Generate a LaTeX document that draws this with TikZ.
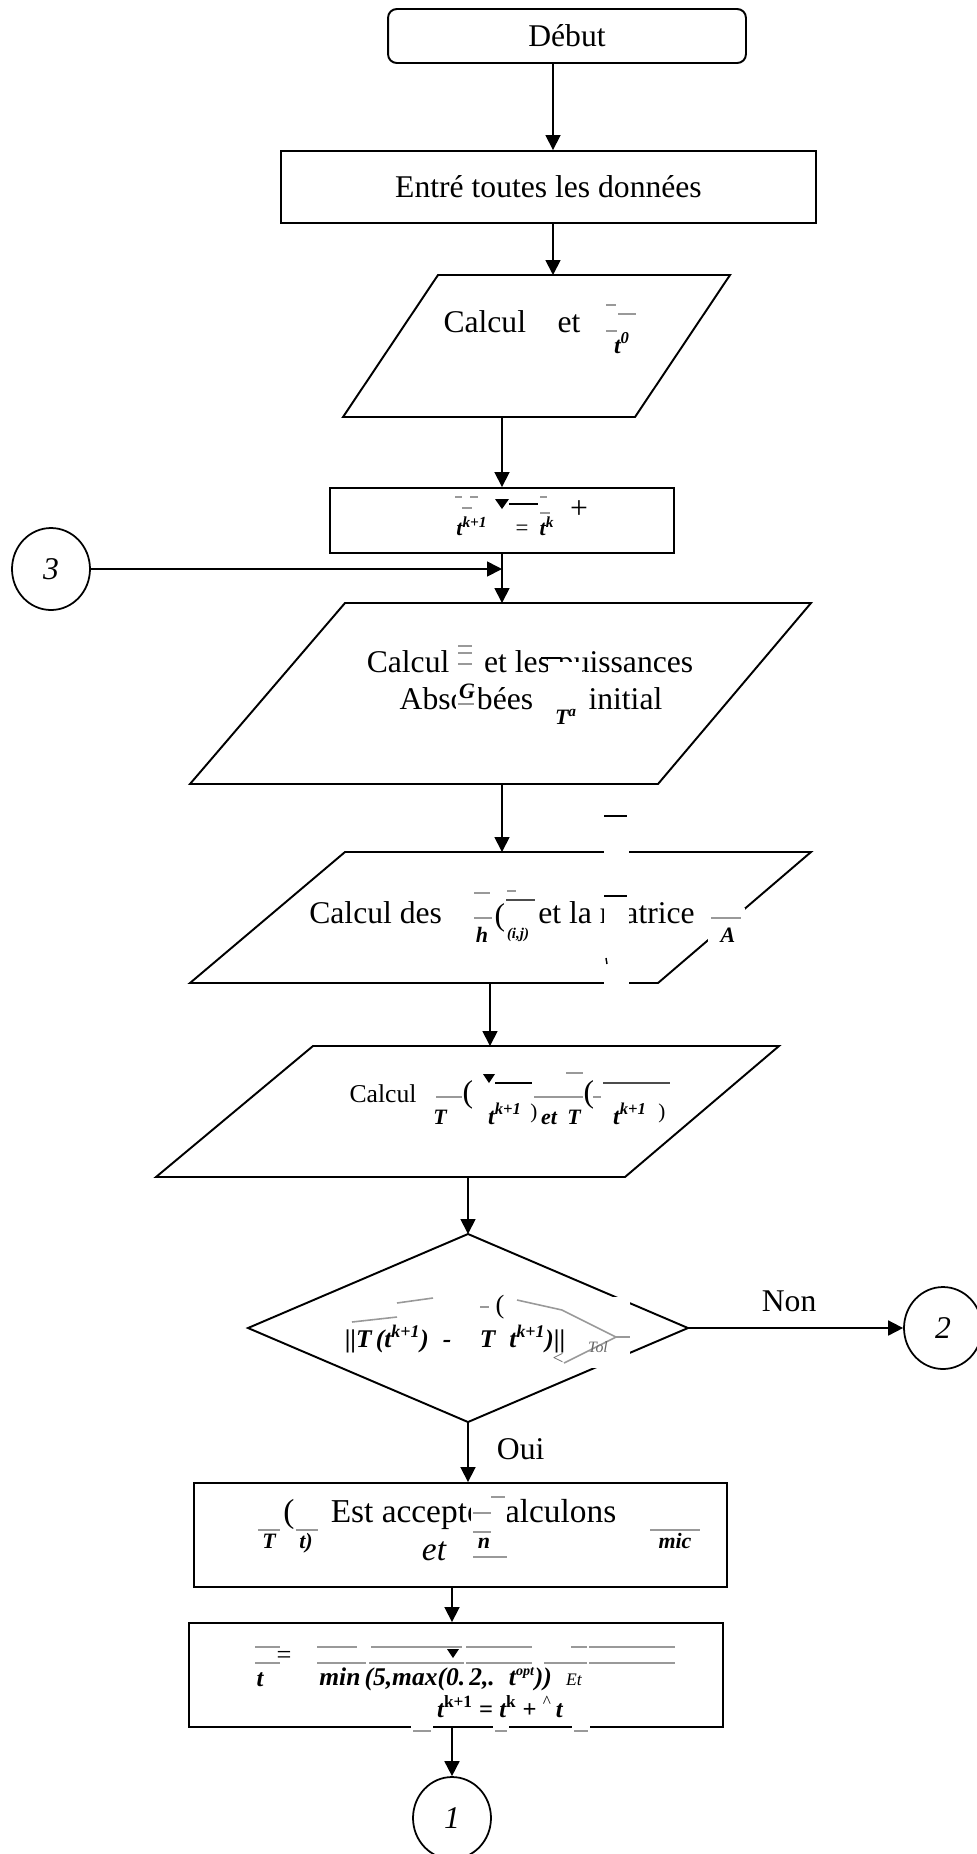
\documentclass[tikz,border=0pt]{standalone}
\usepackage{fontspec}
\setmainfont{Liberation Serif}
\usetikzlibrary{arrows.meta,shapes.geometric}
\newcommand{\eqfont}{\fontsize{12.5}{13}\selectfont\bfseries\itshape}
\begin{document}
\begin{tikzpicture}[x=0.02cm,y=-0.02cm,
  outline/.style={line width=1.1pt},
  arr/.style={line width=1pt,-{Triangle[length=8.5pt,width=8.5pt]}},
  box/.style={draw,line width=1.1pt,inner sep=0pt,font=\fontsize{18}{20}\selectfont},
  conn/.style={draw,ellipse,line width=1pt,minimum width=1.56cm,minimum height=1.64cm,inner sep=0pt,font=\fontsize{18}{20}\selectfont\itshape},
  lbl/.style={inner sep=0pt,font=\fontsize{18}{20}\selectfont},
  eq/.style={inner sep=0pt,font=\eqfont},
  bar/.style={draw=black!40,line width=0.9pt},
  ink/.style={draw=black,line width=0.9pt},
]
\useasboundingbox (0,0) rectangle (977,1854);

% columns used by the vertical connectors
\coordinate (colA) at (553,0);
\coordinate (colB) at (502,0);
\coordinate (colC) at (490,0);
\coordinate (colD) at (468,0);
\coordinate (colE) at (452,0);

% start and input
\node[box,rounded corners=5pt,minimum width=7.16cm,minimum height=1.08cm] (debut) at (567,36) {Début};
\node[box,minimum width=10.7cm,minimum height=1.44cm] (entree) at (548.5,187) {Entré toutes les données};

% first computation
\coordinate (p1a) at (438,275); \coordinate (p1b) at (730,275);
\coordinate (p1c) at (635,417); \coordinate (p1d) at (343,417);
\draw[outline] (p1a)--(p1b)--(p1c)--(p1d)--cycle;
\node[lbl,anchor=base] (p1t) at (512,332) {Calcul\hspace{1em}et};

% time update
\node[box,minimum width=6.88cm,minimum height=1.3cm] (eqk) at (502,520.5) {};

% connector 3
\node[conn] (c3) at (51,569) {3};

% second computation
\coordinate (p2a) at (345,603); \coordinate (p2b) at (811,603);
\coordinate (p2c) at (658,784); \coordinate (p2d) at (190,784);
\draw[outline] (p2a)--(p2b)--(p2c)--(p2d)--cycle;
\node[lbl,anchor=base] (p2t1) at (530,672) {Calcul\hspace{1.1em}et les puissances};
\node[lbl,anchor=base] (p2t2) at (531,709) {Absorbées\hspace{1.75em}initial};

% third computation
\coordinate (p3a) at (345,852); \coordinate (p3b) at (811,852);
\coordinate (p3c) at (658,983); \coordinate (p3d) at (190,983);
\draw[outline] (p3a)--(p3b)--(p3c)--(p3d)--cycle;
\node[lbl,anchor=base] (p3t) at (502,923) {Calcul des\hspace{3.05em}et la matrice};

% fourth computation
\coordinate (p4a) at (313,1046); \coordinate (p4b) at (779,1046);
\coordinate (p4c) at (625,1177); \coordinate (p4d) at (156,1177);
\draw[outline] (p4a)--(p4b)--(p4c)--(p4d)--cycle;
\node[lbl,anchor=base,font=\fontsize{14.6}{16}\selectfont] (p4t) at (383,1102) {Calcul};

% test
\coordinate (dtop) at (468,1234); \coordinate (dright) at (688,1328);
\coordinate (dbot) at (468,1422); \coordinate (dleft) at (248,1328);
\draw[outline] (dtop)--(dright)--(dbot)--(dleft)--cycle;

% accepted step and next step
\node[box,minimum width=10.66cm,minimum height=2.08cm] (res) at (460.5,1535) {};
\node[lbl,anchor=base,font=\fontsize{19}{20}\selectfont] (rest) at (473.5,1522) {Est accepté calculons};
\node[lbl,anchor=base,font=\fontsize{19}{20}\selectfont\itshape] (reset) at (434,1560) {et};
\node[box,minimum width=10.68cm,minimum height=2.08cm] (upd) at (456,1675) {};

% connectors 2 and 1
\node[conn] (c2) at (943,1328) {2};
\node[conn] (c1) at (452,1818) {1};

% flow
\draw[arr] (debut.south -| colA) -- (entree.north -| colA);
\draw[arr] (entree.south -| colA) -- (p1a -| colA);
\draw[arr] (p1d -| colB) -- (eqk.north -| colB);
\draw[arr] (eqk.south -| colB) -- (p2a -| colB);
\draw[arr] (c3.east) -- (c3.east -| colB);
\draw[arr] (p2d -| colB) -- (p3a -| colB);
\draw[arr] (p3d -| colC) -- (p4a -| colC);
\draw[arr] (p4d -| colD) -- (dtop);
\draw[arr] (dright) -- (c2.west) node[lbl,pos=0.47,above=9pt] (non) {Non};
\draw[arr] (dbot) -- (res.north -| dbot) node[lbl,pos=0.45,right=16pt] (oui) {Oui};
\draw[arr] (res.south -| colE) -- (upd.north -| colE);
\draw[arr] (upd.south -| colE) -- (c1.north);

% ---- formula pieces ----
% t^0
\draw[bar] (606,305)--(616,305);
\draw[bar] (618,314)--(636,314);
\draw[bar] (606,331)--(617,331);
\node[eq,anchor=base,font=\fontsize{13.5}{14}\selectfont\bfseries\itshape] at (622,353) {t\textsuperscript{0}};

% t^{k+1} = t^k +
\fill (495,499)--(509,499)--(502,509)--cycle;
\draw[ink] (509,504)--(538,504);
\draw[bar] (455,497)--(462,497); \draw[bar] (470,497)--(478,497); \draw[bar] (540,497)--(547,497);
\draw[bar] (462,508)--(472,508); \draw[bar] (540,513)--(550,513);
\node[eq,anchor=base] at (472,535) {t\textsuperscript{k+1}};
\node[lbl,anchor=base,font=\fontsize{13}{13}\selectfont] at (522,535) {=};
\node[eq,anchor=base] at (547,535) {t\textsuperscript{k}};
\node[lbl,anchor=base] at (579,518) {+};

% G and T_a
\draw[bar] (458,646)--(472,646); \draw[bar] (458,653)--(472,653); \draw[bar] (458,664)--(472,664);
\fill[white] (456,676) rectangle (478,714);
\node[eq,anchor=base] at (467,698) {G};
\draw[bar] (458,704)--(474,704);
\fill[white] (548,662) rectangle (582,745);
\draw[line width=1.3pt] (541,658)--(561,658);
\node[eq,anchor=base] at (566,724) {T\textsuperscript{a}};

% h^{(i,j)} and A
\fill[white] (472,886) rectangle (538,946);
\draw[bar] (474,893)--(490,893); \draw[bar] (474,918)--(492,918); \draw[bar] (507,891)--(516,891);
\draw[draw=black!70,line width=0.9pt] (506,900)--(535,900);
\node[lbl,anchor=base] at (500,925) {(};
\node[eq,anchor=base] at (482,942) {h};
\node[inner sep=0pt,anchor=base,font=\fontsize{8.5}{9}\selectfont\bfseries\itshape] at (518,938) {(i,j)};
\fill[white] (604,812) rectangle (629,990);
\draw[line width=1.3pt] (604,816)--(627,816);
\draw[line width=1.3pt] (604,896)--(627,896);
\draw[line width=0.8pt] (606,958)--(607,964);
\fill[white] (708,908) rectangle (745,950);
\draw[bar] (711,918)--(741,918);
\node[eq,anchor=base] at (728,942) {A};

% T(t^{k+1}) et T(t^{k+1})
\draw[bar] (436,1097)--(462,1097);
\node[lbl,anchor=base] at (468,1102) {(};
\fill (483,1074)--(495,1074)--(489,1083)--cycle;
\draw[ink] (495,1083)--(532,1083);
\draw[bar] (534,1097)--(566,1097); \draw[bar] (566,1073)--(583,1073); \draw[bar] (566,1097)--(583,1097);
\node[lbl,anchor=base] at (589,1102) {(};
\draw[bar] (593,1097)--(601,1097);
\draw[draw=black!70,line width=0.9pt] (603,1083)--(670,1083);
\node[eq,anchor=base] at (440,1124) {T};
\node[eq,anchor=base,font=\fontsize{13.5}{14}\selectfont\bfseries\itshape] at (505,1124) {t\textsuperscript{k+1}};
\node[inner sep=0pt,anchor=base,font=\fontsize{12}{12}\selectfont] at (534,1118) {)};
\node[eq,anchor=base] at (549,1124) {et};
\node[eq,anchor=base] at (574,1124) {T};
\node[eq,anchor=base,font=\fontsize{13.5}{14}\selectfont\bfseries\itshape] at (630,1124) {t\textsuperscript{k+1}};
\node[inner sep=0pt,anchor=base,font=\fontsize{12}{12}\selectfont] at (662,1118) {)};

% tolerance test
\fill[white] (352,1297) rectangle (630,1368);
\draw[bar] (352,1322)--(397,1317);
\draw[bar] (397,1303)--(433,1298);
\draw[bar] (517,1300)--(562,1310)--(616,1337)--(564,1363);
\draw[bar] (616,1337)--(630,1337);
\draw[bar] (480,1307)--(489,1307);
\node[lbl,anchor=base,font=\fontsize{15}{15}\selectfont] at (500,1313) {(};
\node[eq,anchor=base,font=\fontsize{14.5}{15}\selectfont\bfseries\itshape] at (455,1347) {{\upshape||}T\,(t\textsuperscript{k+1})\;\;-\;\;\;\;T\;\;t\textsuperscript{k+1}){\upshape||}};
\node[inner sep=0pt,font=\fontsize{9}{9}\selectfont\itshape,text=black!60] at (598,1347) {Tol};
\node[inner sep=0pt,font=\fontsize{11}{11}\selectfont,text=black!60] at (558,1359) {<};

% accepted-step pieces
\draw[bar] (258,1530)--(280,1530); \node[eq,anchor=base] at (269,1548) {T};
\node[lbl,anchor=base,font=\fontsize{19}{20}\selectfont] at (289,1522) {(};
\draw[bar] (296,1530)--(318,1530); \node[eq,anchor=base] at (306,1548) {t)};
\fill[white] (471,1490) rectangle (507,1560);
\draw[bar] (491,1497)--(505,1497); \draw[bar] (473,1513)--(491,1513);
\draw[bar] (473,1532)--(491,1532); \draw[bar] (473,1557)--(507,1557);
\node[eq,anchor=base] at (484,1548) {n};
\draw[bar] (650,1530)--(700,1530); \node[eq,anchor=base] at (675,1548) {mic};

% step size
\draw[bar] (255,1647)--(280,1647); \draw[bar] (317,1647)--(357,1647);
\draw[bar] (371,1647)--(462,1647); \draw[bar] (466,1647)--(532,1647);
\draw[bar] (571,1647)--(587,1647); \draw[bar] (589,1647)--(675,1647);
\draw[bar] (255,1663)--(280,1663); \draw[bar] (317,1663)--(366,1663);
\draw[bar] (369,1663)--(464,1663); \draw[bar] (466,1663)--(532,1663);
\draw[bar] (544,1663)--(587,1663); \draw[bar] (589,1663)--(675,1663);
\fill (447,1649)--(459,1649)--(453,1658)--cycle;
\node[lbl,anchor=base,font=\fontsize{15}{15}\selectfont] at (284,1663) {=};
\node[eq,anchor=base,font=\fontsize{14}{14}\selectfont\bfseries\itshape] at (260,1686) {t};
\node[eq,anchor=base west,font=\fontsize{14.5}{15}\selectfont\bfseries\itshape] at (319,1685) {min\,(5,max(0.\,2,.\;\;t\textsuperscript{\fontsize{8}{8}\selectfont opt}))\;\;{\mdseries\fontsize{10}{10}\selectfont Et}};
\node[eq,anchor=base,font=\fontsize{14}{14}\selectfont\bfseries] at (500,1717) {{\itshape t}\textsuperscript{k+1} = {\itshape t}\textsuperscript{k} + \textsuperscript{\mdseries\^{}}\,{\itshape t}};
\fill[white] (411,1720) rectangle (433,1736); \draw[bar] (413,1731)--(431,1731);
\fill[white] (493,1720) rectangle (509,1736); \draw[bar] (495,1731)--(507,1731);
\fill[white] (572,1720) rectangle (590,1736); \draw[bar] (574,1731)--(588,1731);
\end{tikzpicture}
\end{document}
